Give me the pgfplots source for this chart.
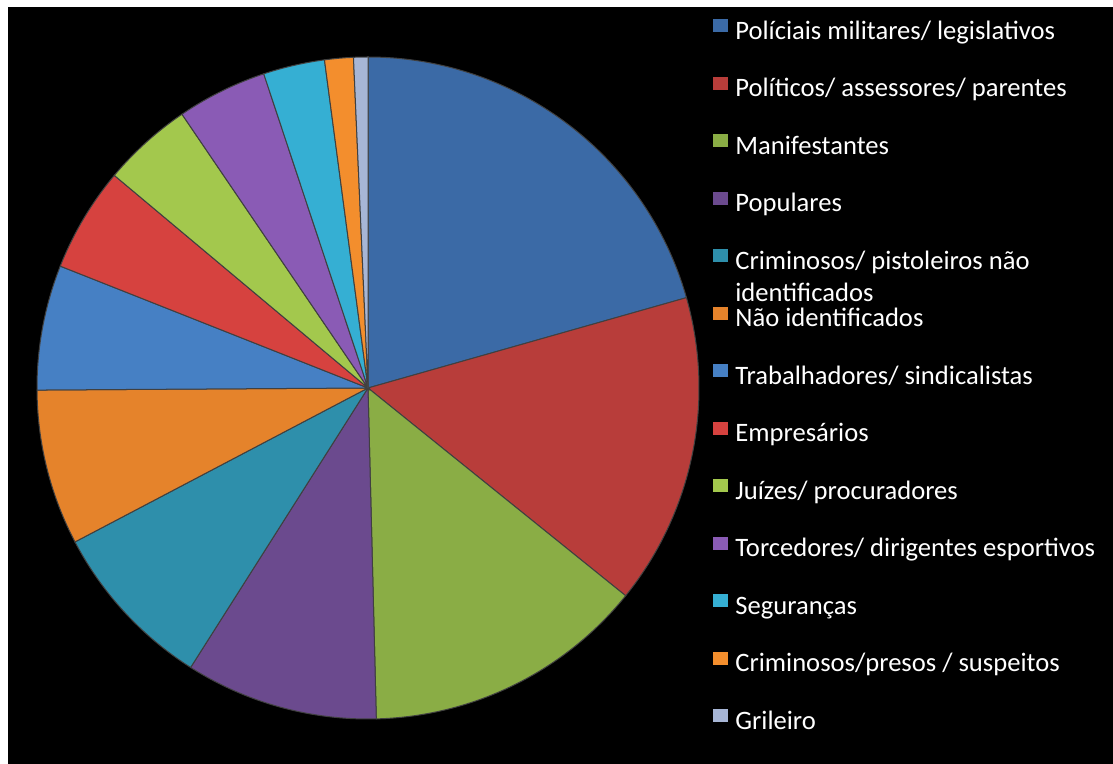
\documentclass[border=0pt]{standalone}
\usepackage{pgfplots}
\pgfplotsset{compat=1.18}
\usepackage{pgfplotstable}
\usepackage{fontspec}
\setmainfont{Carlito}
\definecolor{pie0}{HTML}{3B6AA6}
\definecolor{pie1}{HTML}{B83D3A}
\definecolor{pie2}{HTML}{8AAD45}
\definecolor{pie3}{HTML}{6B4A8E}
\definecolor{pie4}{HTML}{2E8FAB}
\definecolor{pie5}{HTML}{E5832B}
\definecolor{pie6}{HTML}{4680C4}
\definecolor{pie7}{HTML}{D6423F}
\definecolor{pie8}{HTML}{A3C84D}
\definecolor{pie9}{HTML}{8A5BB5}
\definecolor{pie10}{HTML}{35AFD3}
\definecolor{pie11}{HTML}{F38E2D}
\definecolor{pie12}{HTML}{A7B6D6}

% share of each category, in percent, clockwise from 12 o'clock
\pgfplotstableread{
value
20.6
15.2
13.8
9.4
8.3
7.6
6.1
5.1
4.4
4.4
3.0
1.4
0.7
}\piedata

\begin{document}
\begin{tikzpicture}[x=0.5pt,y=0.5pt]
\fill[white] (0,0) rectangle (1113,764);
\fill[black] (8,0) rectangle (1113,757);
\begin{axis}[
  at={(184pt,188pt)}, anchor=center,
  scale only axis, width=331pt, height=331pt,
  xmin=-1, xmax=1, ymin=-1, ymax=1,
  axis lines=none, clip=false,
  legend entries={
    Políciais militares/ legislativos,
    Políticos/ assessores/ parentes,
    Manifestantes,
    Populares,
    {\smash{\begin{tabular}[t]{@{}l@{}}Criminosos/ pistoleiros não\\identificados\end{tabular}}},
    Não identificados,
    Trabalhadores/ sindicalistas,
    Empresários,
    Juízes/ procuradores,
    Torcedores/ dirigentes esportivos,
    Seguranças,
    Criminosos/presos / suspeitos,
    Grileiro},
  legend cell align=left,
  legend style={
    at={(1.0211,1.0574)}, anchor=north west,
    draw=none, fill=none, text=white, inner sep=0pt,
    font=\fontsize{13.3pt}{16pt}\selectfont,
    row sep=15.75pt, column sep=3.5pt,
    nodes={inner sep=0pt, text height=10pt, text depth=3pt},
  },
  legend image code/.code={
    \path[#1, draw=none] (0pt,0.0pt) rectangle (7.5pt,6.5pt);
  },
]
\pgfplotstablegetrowsof{\piedata}
\pgfmathtruncatemacro\lastrow{\pgfplotsretval-1}
\gdef\cum{0}
\pgfplotsforeachungrouped \i in {0,...,\lastrow}{
  \pgfplotstablegetelem{\i}{value}\of\piedata
  \let\v\pgfplotsretval
  \pgfmathsetmacro\s{90-3.6*\cum}
  \pgfmathsetmacro\e{90-3.6*(\cum+\v)}
  \pgfmathsetmacro\newcum{\cum+\v}
  \global\let\cum\newcum
  \edef\doplot{\noexpand\addplot[fill=pie\i, draw=black!75, line width=0.5pt, domain=\e:\s, samples=90] ({cos(x)},{sin(x)}) -- (axis cs:0,0) -- cycle;}
  \doplot
}
\end{axis}
\end{tikzpicture}
\end{document}
